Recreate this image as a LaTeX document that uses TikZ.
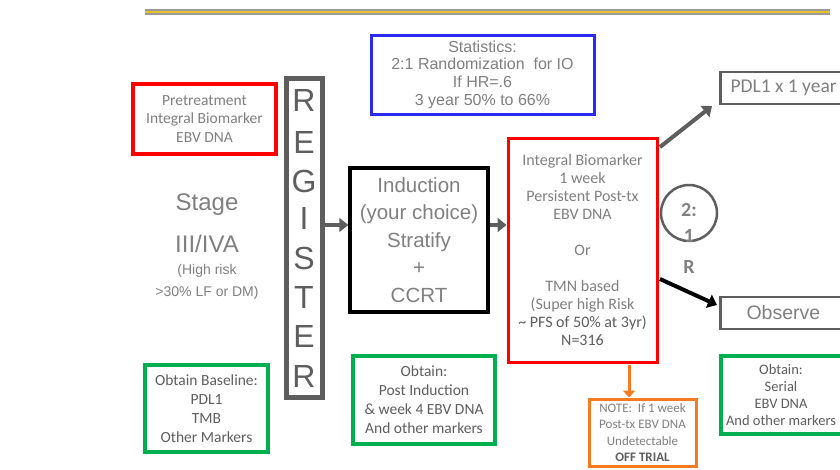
\documentclass[tikz,border=0pt]{standalone}
\usepackage{fontspec}
\setmainfont{Liberation Sans}
\newfontfamily\calfnt{Carlito}
\usetikzlibrary{arrows.meta}
\definecolor{txtgray}{HTML}{808080}
\definecolor{dgray}{HTML}{5E5E5E}
\definecolor{myred}{HTML}{FF0000}
\definecolor{myblue}{HTML}{2A2AF0}
\definecolor{mygreen}{HTML}{00B050}
\definecolor{myorange}{HTML}{F57A20}
\definecolor{gold}{HTML}{E8C030}
\tikzset{
  box/.style={draw, inner sep=0pt, align=center, text=txtgray},
  calfont/.style={font=\calfnt\fontsize{15.5}{18.5}\selectfont},
  arifont/.style={font=\fontsize{16}{17.7}\selectfont},
  grayarrow/.style={draw=dgray, line width=4pt, -{Triangle[length=9pt,width=14pt]}},
}
\begin{document}
\begin{tikzpicture}[x=1pt,y=-1pt]
\clip (0,0) rectangle (840,469);
\useasboundingbox (0,0) rectangle (840,469);
\fill[white] (0,0) rectangle (840,469);
% top bar
\coordinate (barL) at (145,12);
\coordinate (barR) at (830,12);
\draw[line width=6pt, color=gray!80] (barL) -- (barR);
\draw[line width=2pt, color=gold] (barL) -- (barR);
% pretreatment
\node[box, draw=myred, line width=4pt, calfont, minimum width=143pt, minimum height=70pt] (pre) at (204.5,119)
  {Pretreatment\\Integral Biomarker\\EBV DNA};
% stage text
\node[text=txtgray, font=\fontsize{24}{28}\selectfont] (stage) at (207,205) {Stage};
\node[text=txtgray, font=\fontsize{24}{28}\selectfont] (iii) at (207,244) {III/IVA};
\node[text=txtgray, font=\fontsize{14}{22}\selectfont, align=center] (risk) at (207,282) {(High risk\\>30\% LF or DM)};
% register
\node[draw=dgray, line width=5pt, minimum width=36pt, minimum height=319pt, inner sep=0pt] (reg) at (304,237.5) {};
\foreach \l/\yy in {R/100,E/142,G/181,I/218,S/258,T/297,E/336,R/376}
  \node[text=dgray, font=\fontsize{32}{32}\selectfont] at (304,\yy) {\l};
% induction
\node[box, draw=black, line width=3.5pt, minimum width=138pt, minimum height=144pt, font=\fontsize{20.5}{27.5}\selectfont] (ind) at (419,240)
  {Induction\\(your choice)\\Stratify\\+\\CCRT};
% statistics
\node[box, draw=myblue, line width=3pt, arifont, minimum width=223pt, minimum height=79pt] (stat) at (482.5,74.5)
  {Statistics:\\2:1 Randomization\ \ for IO\\If HR=.6\\3 year 50\% to 66\%};
% integral
\node[box, draw=myred, line width=3pt, minimum width=149pt, minimum height=224pt, font=\calfnt\fontsize{16}{18}\selectfont] (integ) at (582.5,250)
  {Integral Biomarker\\1 week\\Persistent Post-tx\\EBV DNA\\[18pt]Or\\[18pt]TMN based\\(Super high Risk\\\textcolor{dgray}{\textasciitilde{} PFS of 50\% at 3yr)}\\\textcolor{dgray}{N=316}};
% circle
\node[draw=dgray, line width=2.5pt, circle, minimum size=56pt, inner sep=0pt] (circ) at (689,213) {};
\node[text=txtgray, font=\calfnt\bfseries\fontsize{20}{20}\selectfont] (t2) at (689,210) {2:};
\node[text=txtgray, font=\calfnt\bfseries\fontsize{20}{20}\selectfont] (t1) at (689,236) {1};
\node[text=txtgray, font=\calfnt\bfseries\fontsize{20}{20}\selectfont] (tR) at (689,267) {R};
% PDL1 / observe
\node[box, draw=dgray, line width=2.5pt, minimum width=140pt, minimum height=32pt, anchor=west] (pdl) at (719,88) {};
\node[text=txtgray, font=\calfnt\fontsize{19.5}{19.5}\selectfont, anchor=west] at (727,88) {PDL1 x 1 year};
\node[box, draw=dgray, line width=2.5pt, minimum width=140pt, minimum height=32pt, anchor=west] (obs) at (719,313) {};
\node[text=txtgray, font=\fontsize{19.5}{19.5}\selectfont, anchor=west] at (743,313) {Observe};
% green boxes
\node[box, draw=mygreen, line width=4pt, text=dgray, minimum width=123pt, minimum height=87pt, font=\calfnt\fontsize{15.5}{19}\selectfont] (base) at (206.5,408.5)
  {Obtain Baseline:\\PDL1\\TMB\\Other Markers};
\node[box, draw=mygreen, line width=4pt, text=dgray, minimum width=142pt, minimum height=88pt, font=\calfnt\fontsize{15.5}{19}\selectfont] (post) at (424,400)
  {Obtain:\\Post Induction\\\& week 4 EBV DNA\\And other markers};
\node[box, draw=mygreen, line width=4pt, minimum width=140pt, minimum height=78pt, anchor=west] (ser) at (719,395) {};
\node[text=dgray, align=center, font=\calfnt\fontsize{14.5}{17}\selectfont] (sertxt) at (781,395)
  {Obtain:\\Serial\\EBV DNA\\And other markers};
% orange note
\node[box, draw=myorange, line width=3pt, minimum width=107pt, minimum height=67pt, font=\calfnt\fontsize{13}{16.6}\selectfont] (note) at (642.5,432.5)
  {NOTE:\ \ If 1 week\\Post-tx EBV DNA\\Undetectable\\\textcolor{dgray}{\bfseries OFF TRIAL}};
% arrows
\draw[grayarrow] (reg.east |- 0,225) -- (ind.west |- 0,225);
\draw[grayarrow] (ind.east |- 0,225) -- (integ.west |- 0,225);
\coordinate (a1s) at (660,147);
\coordinate (a1e) at (712,106);
\draw[grayarrow] (a1s) -- (a1e);
\coordinate (a2s) at (660,279);
\coordinate (a2e) at (717,305);
\draw[draw=black, line width=4pt, -{Triangle[length=9pt,width=14pt]}] (a2s) -- (a2e);
\coordinate (oa) at (629,365);
\draw[draw=myorange, line width=3pt, -{Triangle[length=7pt,width=12pt]}] (oa) -- (note.north -| oa);
\end{tikzpicture}
\end{document}
